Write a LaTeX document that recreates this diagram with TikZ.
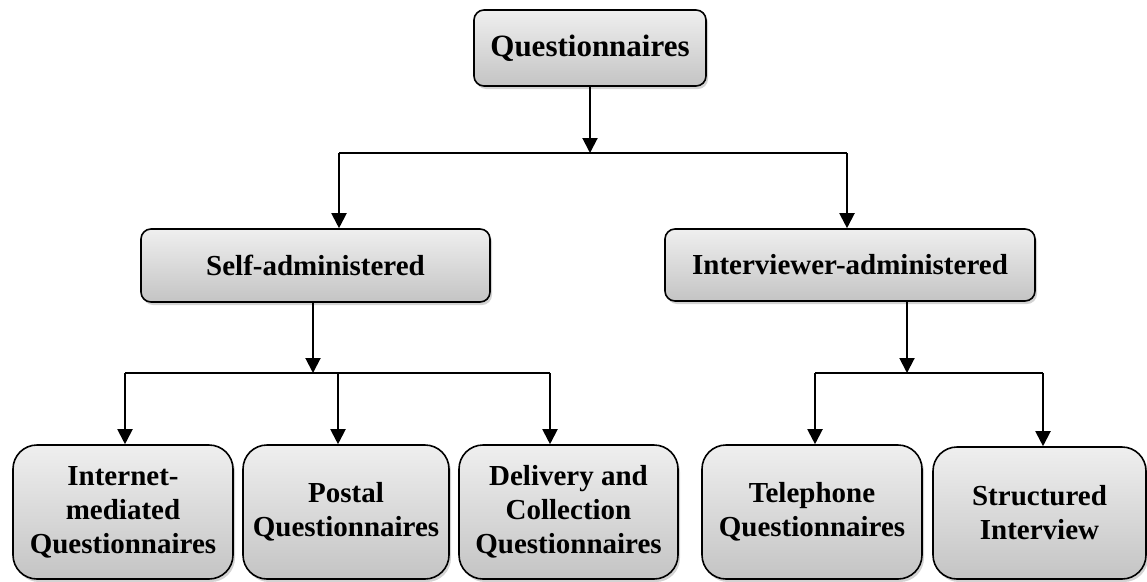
\documentclass[tikz,border=0pt]{standalone}
\usepackage{fontspec}
\setmainfont{Liberation Serif}
\usetikzlibrary{arrows.meta,positioning,shadows}
\definecolor{boxtop}{HTML}{EFEFEF}
\definecolor{boxbot}{HTML}{C4C4C4}
\tikzset{
  ar/.style={-{Triangle[length=15pt,width=15pt]},line width=2pt},
  ln/.style={line width=2pt},
  box/.style={draw,line width=1.6pt,rounded corners=10pt,top color=boxtop,bottom color=boxbot,align=center,inner sep=0pt,
    font=\bfseries\fontsize{29}{34}\selectfont,drop shadow={shadow xshift=2pt,shadow yshift=-3pt,opacity=.35}},
  leaf/.style={box,rounded corners=24pt,minimum height=134pt}
}

\begin{document}
\begin{tikzpicture}[x=1pt,y=1pt]
\useasboundingbox (0,0) rectangle (1147,-581);
% levels
\node[box,minimum width=232pt,minimum height=76pt,font=\bfseries\fontsize{31}{36}\selectfont] (quest) at (590,-48) {Questionnaires};
\node[box,minimum width=349pt,minimum height=73pt] (self) at (315.5,-265.5) {Self-administered};
\node[box,minimum width=370pt,minimum height=72pt] (inter) at (850,-265) {Interviewer-administered};
\node[leaf,minimum width=220pt] (inet) at (123,-512) {Internet-\\mediated\\Questionnaires};
\node[leaf,minimum width=206pt] (postal) at (346,-512) {Postal\\Questionnaires};
\node[leaf,minimum width=219pt] (deliv) at (568.5,-512) {Delivery and\\Collection\\Questionnaires};
\node[leaf,minimum width=220pt] (phone) at (812,-512) {Telephone\\Questionnaires};
\node[leaf,minimum width=213pt,minimum height=132pt] (struct) at (1039.5,-513) {Structured\\Interview};
% first branch
\coordinate (j1) at (590,-153);
\coordinate (j1l) at (339,-153);
\coordinate (j1r) at (847,-153);
\draw[ar] (quest.south) -- (j1);
\draw[ln] (j1l) -- (j1r);
\draw[ar] (j1l) -- (j1l |- self.north);
\draw[ar] (j1r) -- (j1r |- inter.north);
% self-administered branch
\coordinate (j2) at (313,-373);
\coordinate (b1) at (125,-373);
\coordinate (b2) at (338,-373);
\coordinate (b3) at (550,-373);
\draw[ar] (j2 |- self.south) -- (j2);
\draw[ln] (b1) -- (b3);
\draw[ar] (b1) -- (b1 |- inet.north);
\draw[ar] (b2) -- (b2 |- postal.north);
\draw[ar] (b3) -- (b3 |- deliv.north);
% interviewer branch
\coordinate (j3) at (907,-373);
\coordinate (b4) at (815,-373);
\coordinate (b5) at (1043,-373);
\draw[ar] (j3 |- inter.south) -- (j3);
\draw[ln] (b4) -- (b5);
\draw[ar] (b4) -- (b4 |- phone.north);
\draw[ar] (b5) -- (b5 |- struct.north);
\end{tikzpicture}
\end{document}
